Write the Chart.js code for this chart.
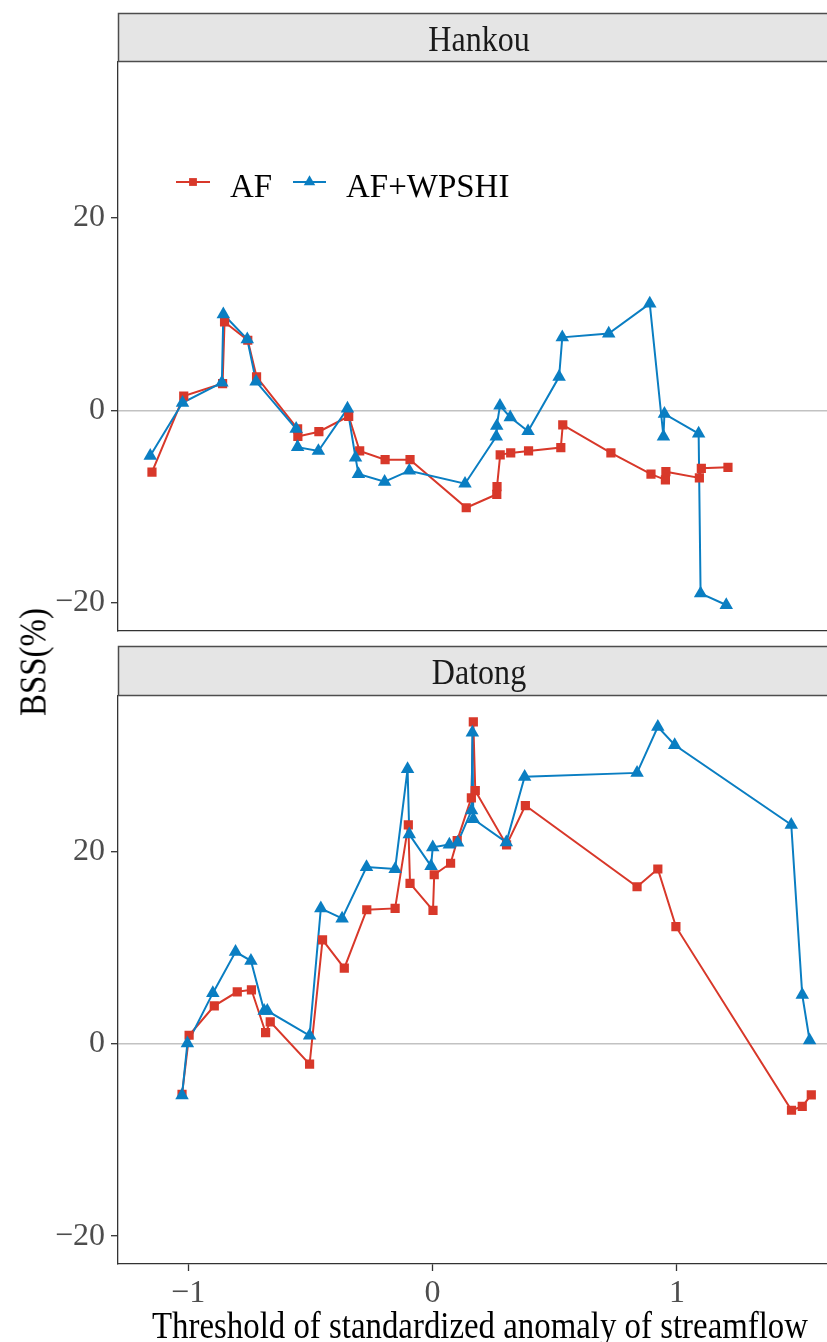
<!DOCTYPE html>
<html>
<head>
<meta charset="utf-8">
<title>BSS of AF and AF+WPSHI</title>
<script src="https://cdn.jsdelivr.net/npm/chart.js@4.4.1/dist/chart.umd.min.js"></script>
<style>
  html, body { margin: 0; padding: 0; background: #fff; overflow: hidden; }
  #wrap { position: relative; width: 827px; height: 1342px; overflow: hidden; background: #fff; }
  .panel { position: absolute; left: 0; width: 845px; }
  #yTitle {
    position: absolute; left: 33px; top: 662px;
    font-family: "Liberation Serif", "Times New Roman", serif; font-size: 37px; line-height: 1;
    color: #000; white-space: nowrap;
    transform: translate(-50%, -50%) rotate(-90deg) scaleX(0.89);
  }
</style>
</head>
<body>
<div id="wrap">
  <div class="panel" style="top:0;height:640px"><canvas id="hankou" width="845" height="640"></canvas></div>
  <div class="panel" style="top:640px;height:702px"><canvas id="datong" width="845" height="702"></canvas></div>
  <div id="yTitle">BSS(%)</div>
</div>
<script>
// ---- data ----
const seriesNames = ['AF', 'AF+WPSHI'];
const stations = ['Hankou', 'Datong'];
const xTicks = [-1, 0, 1];
const yTicks = [-20, 0, 20];

// Hankou
const hankouAfX = [-1.148, -1.018, -0.859, -0.851, -0.756, -0.720, -0.552, -0.551, -0.465, -0.343, -0.298, -0.194, -0.092, 0.138, 0.263, 0.264, 0.277, 0.320, 0.393, 0.525, 0.533, 0.730, 0.894, 0.953, 0.955, 1.092, 1.100, 1.209];
const hankouAfY = [-6.4, 1.5, 2.8, 9.2, 7.3, 3.5, -1.9, -2.7, -2.2, -0.6, -4.2, -5.1, -5.1, -10.1, -8.7, -7.9, -4.6, -4.4, -4.2, -3.85, -1.5, -4.4, -6.6, -7.2, -6.35, -7.0, -6.0, -5.9];
const hankouWpX = [-1.155, -1.023, -0.862, -0.856, -0.758, -0.722, -0.558, -0.552, -0.467, -0.348, -0.315, -0.303, -0.196, -0.095, 0.133, 0.261, 0.263, 0.276, 0.318, 0.391, 0.518, 0.531, 0.721, 0.889, 0.945, 0.949, 1.089, 1.097, 1.202];
const hankouWpY = [-4.7, 0.8, 2.9, 10.0, 7.4, 3.0, -1.9, -3.8, -4.2, 0.2, -4.9, -6.6, -7.4, -6.25, -7.6, -2.7, -1.6, 0.5, -0.7, -2.15, 3.5, 7.6, 8.0, 11.1, -2.7, -0.35, -2.4, -19.0, -20.2];

// Datong
const datongAfX = [-1.025, -0.996, -0.893, -0.799, -0.741, -0.683, -0.664, -0.503, -0.450, -0.361, -0.269, -0.153, -0.099, -0.092, 0.002, 0.007, 0.074, 0.101, 0.159, 0.167, 0.175, 0.303, 0.380, 0.837, 0.922, 0.996, 1.469, 1.513, 1.550];
const datongAfY = [-5.24, 0.9, 3.96, 5.42, 5.63, 1.18, 2.29, -2.1, 10.83, 7.88, 13.96, 14.1, 22.8, 16.7, 13.9, 17.6, 18.8, 21.15, 25.6, 33.5, 26.35, 20.7, 24.8, 16.35, 18.2, 12.2, -6.9, -6.5, -5.3];
const datongWpX = [-1.025, -1.003, -0.899, -0.806, -0.743, -0.689, -0.676, -0.503, -0.457, -0.370, -0.270, -0.153, -0.102, -0.095, -0.006, 0.001, 0.069, 0.103, 0.160, 0.163, 0.167, 0.302, 0.377, 0.837, 0.922, 0.991, 1.468, 1.513, 1.543];
const datongWpY = [-5.35, 0.07, 5.28, 9.58, 8.65, 3.44, 3.44, 0.87, 14.1, 13.05, 18.4, 18.2, 28.6, 21.8, 18.5, 20.45, 20.75, 20.95, 24.3, 32.4, 23.4, 20.97, 27.8, 28.2, 33.0, 31.1, 22.8, 5.1, 0.38];

// ---- styling ----
const RED = '#D8382A';
const BLUE = '#0A7EC2';
const SERIF = '"Liberation Serif", "Times New Roman", serif';
const X_MIN = -1.287, X_MAX = 1.656;
const Y_MIN = -22.9, Y_MAX = 36.2;

const toPts = (xs, ys) => xs.map((x, i) => ({ x, y: ys[i] }));
const fmt = v => (v < 0 ? '\u2212' + Math.abs(v) : String(v));

const markerStyles = [
  { pointStyle: 'rect', radius: 6.5, color: RED },
  { pointStyle: 'triangle', radius: 7.8, color: BLUE }
];

function buildDatasets(afX, afY, wpX, wpY) {
  const af = toPts(afX, afY), wp = toPts(wpX, wpY);
  const lineDs = (data, color) => ({
    data, borderColor: color, backgroundColor: color, borderWidth: 2,
    pointRadius: 0, pointHoverRadius: 0, tension: 0, showLine: true, fill: false
  });
  const pointDs = (data, m) => ({
    data, showLine: false, pointStyle: m.pointStyle, pointRadius: m.radius,
    pointHoverRadius: m.radius, pointBackgroundColor: m.color, pointBorderColor: m.color,
    pointBorderWidth: 0, borderColor: m.color, backgroundColor: m.color
  });
  // lower index is painted last: points above lines, AF+WPSHI points on top
  return [
    pointDs(wp, markerStyles[1]),
    pointDs(af, markerStyles[0]),
    lineDs(wp, BLUE),
    lineDs(af, RED)
  ];
}

// condensed serif text helper
function drawText(ctx, text, x, y, size, color, sx, align) {
  ctx.save();
  ctx.font = size + 'px ' + SERIF;
  ctx.fillStyle = color;
  ctx.textBaseline = 'alphabetic';
  const w = ctx.measureText(text).width * sx;
  let left = x;
  if (align === 'center') left = x - w / 2;
  ctx.translate(left, y);
  ctx.scale(sx, 1);
  ctx.textAlign = 'left';
  ctx.fillText(text, 0, 0);
  ctx.restore();
}

// facet strip, legend and x-axis title
const panelDecor = {
  id: 'panelDecor',
  afterDraw(chart, args, opts) {
    const { ctx, chartArea: a } = chart;
    const top = a.top - opts.stripHeight;
    ctx.save();
    ctx.fillStyle = '#E5E5E5';
    ctx.fillRect(a.left, top, a.right - a.left, opts.stripHeight);
    ctx.strokeStyle = '#4D4D4D';
    ctx.lineWidth = 1.5;
    ctx.strokeRect(a.left + 0.5, top + 0.5, a.right - a.left, opts.stripHeight - 1);
    ctx.restore();
    drawText(ctx, opts.label, 479, top + 38, 36, '#1A1A1A', 0.89, 'center');

    if (opts.legend) {
      const items = [
        { name: seriesNames[0], m: markerStyles[0], x0: 176, x1: 210, tx: 230 },
        { name: seriesNames[1], m: markerStyles[1], x0: 293, x1: 326, tx: 346 }
      ];
      const ly = 182;
      items.forEach(it => {
        ctx.save();
        ctx.strokeStyle = it.m.color;
        ctx.fillStyle = it.m.color;
        ctx.lineWidth = 2;
        ctx.beginPath();
        ctx.moveTo(it.x0, ly);
        ctx.lineTo(it.x1, ly);
        ctx.stroke();
        Chart.helpers.drawPoint(ctx, {
          pointStyle: it.m.pointStyle, radius: it.m.radius * 0.85, rotation: 0, borderWidth: 0
        }, (it.x0 + it.x1) / 2, ly);
        ctx.restore();
        drawText(ctx, it.name, it.tx, 197, 34, '#000', 0.97, 'left');
      });
    }
    if (opts.xTitle) {
      drawText(ctx, opts.xTitle, 480, chart.height - 4, 37, '#000', 0.888, 'center');
    }
  }
};

function makeOptions(isBottom, label) {
  return {
    responsive: false,
    animation: false,
    events: [],
    layout: { padding: isBottom ? { top: 56, right: 0, bottom: 0, left: 0 } : { top: 62, right: 0, bottom: 9, left: 0 } },
    plugins: {
      legend: { display: false },
      tooltip: { enabled: false },
      panelDecor: {
        stripHeight: isBottom ? 50 : 49,
        label,
        legend: !isBottom,
        xTitle: isBottom ? 'Threshold of standardized anomaly of streamflow' : null
      }
    },
    scales: {
      x: {
        type: 'linear', min: X_MIN, max: X_MAX,
        afterBuildTicks: s => { s.ticks = xTicks.map(v => ({ value: v })); },
        afterFit: s => { s.height = isBottom ? 78 : 0; s.paddingLeft = 0; s.paddingRight = 0; },
        ticks: {
          display: isBottom, font: { family: SERIF, size: 32 }, color: '#4D4D4D',
          padding: 3, maxRotation: 0, autoSkip: false, callback: v => fmt(v)
        },
        grid: { display: isBottom, drawOnChartArea: false, tickLength: 7, tickColor: '#333', tickWidth: 1.3 },
        border: { display: true, color: '#333', width: 1.3 }
      },
      y: {
        type: 'linear', min: Y_MIN, max: Y_MAX,
        afterBuildTicks: s => { s.ticks = yTicks.map(v => ({ value: v })); },
        afterFit: s => { s.width = 118; s.paddingTop = 0; s.paddingBottom = 0; },
        ticks: {
          font: { family: SERIF, size: 32 }, color: '#4D4D4D', padding: 6,
          autoSkip: false, callback: v => fmt(v)
        },
        grid: {
          drawOnChartArea: true,
          color: c => (c.tick && c.tick.value === 0 ? '#C2C2C2' : 'rgba(0,0,0,0)'),
          lineWidth: 1.4,
          tickLength: 7, tickColor: '#333', tickWidth: 1.3
        },
        border: { display: true, color: '#333', width: 1.3 }
      }
    }
  };
}

new Chart(document.getElementById('hankou'), {
  type: 'scatter',
  data: { datasets: buildDatasets(hankouAfX, hankouAfY, hankouWpX, hankouWpY) },
  options: makeOptions(false, stations[0]),
  plugins: [panelDecor]
});

new Chart(document.getElementById('datong'), {
  type: 'scatter',
  data: { datasets: buildDatasets(datongAfX, datongAfY, datongWpX, datongWpY) },
  options: makeOptions(true, stations[1]),
  plugins: [panelDecor]
});
</script>
</body>
</html>
